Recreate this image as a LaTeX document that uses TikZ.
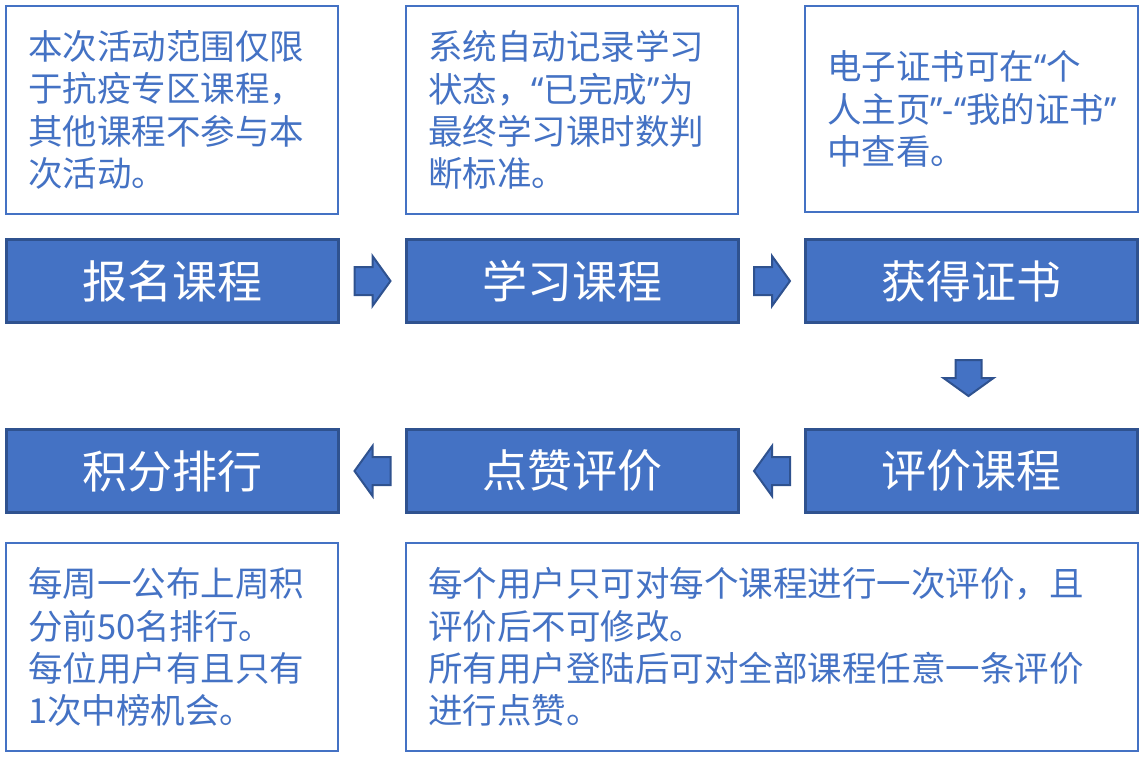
\documentclass[tikz,border=0pt]{standalone}
\usepackage{fontspec}
\usetikzlibrary{calc}
\setmainfont{Noto Sans CJK SC}
\newfontfamily\qf{Noto Sans}
\newcommand{\myoq}{{\qf “}}
\newcommand{\mycq}{{\qf ”}}
\newcommand{\myhy}{{\qf -}}
\definecolor{bfill}{HTML}{4472C4}
\definecolor{bdark}{HTML}{2F528F}
\tikzset{
  tbox/.style={draw=bfill, line width=2pt, fill=white, text=bfill, anchor=north west,
    align=left, inner xsep=22pt, inner ysep=0pt,
    font=\fontsize{34.5}{42.3}\selectfont},
  sbox/.style={draw=bdark, line width=3pt, fill=bfill, text=white, anchor=north west,
    minimum width=332pt, minimum height=83pt, inner sep=0pt,
    font=\fontsize{45}{50}\selectfont},
  barrow/.style={draw=bdark, line width=2pt, fill=bfill, line join=miter},
}
\begin{document}
\begin{tikzpicture}[x=1pt,y=-1pt]
\useasboundingbox (0,0) rectangle (1142,756);
% top text boxes
\node[tbox, minimum width=332pt, minimum height=208pt, text width=288pt] (t1) at (5,5)
  {本次活动范围仅限\\于抗疫专区课程，\\其他课程不参与本\\次活动。};
\node[tbox, minimum width=332pt, minimum height=208pt, text width=288pt] (t2) at (405,5)
  {系统自动记录学习\\状态，\myoq 已完成\mycq 为\\最终学习课时数判\\断标准。};
\node[tbox, minimum width=333pt, minimum height=206pt, text width=289pt] (t3) at (804,5)
  {电子证书可在\myoq 个\\\mbox{人主页\mycq\myhy\myoq 我的证书\mycq}\\中查看。};
% step boxes
\node[sbox] (s1) at (5,238) {报名课程};
\node[sbox] (s2) at (405,238) {学习课程};
\node[sbox] (s3) at (804,238) {获得证书};
\node[sbox] (s4) at (804,428) {评价课程};
\node[sbox] (s5) at (405,428) {点赞评价};
\node[sbox] (s6) at (5,428) {积分排行};
% bottom text boxes
\node[tbox, minimum width=332pt, minimum height=208pt, text width=288pt] (b1) at (5,542)
  {每周一公布上周积\\分前50名排行。\\每位用户有且只有\\1次中榜机会。};
\node[tbox, minimum width=732pt, minimum height=208pt, text width=688pt] (b2) at (405,542)
  {每个用户只可对每个课程进行一次评价，且\\评价后不可修改。\\所有用户登陆后可对全部课程任意一条评价\\进行点赞。};
% block arrows
\coordinate (a1) at ($(s1.east)!0.5!(s2.west)$);
\coordinate (a2) at ($(s2.east)!0.5!(s3.west)$);
\coordinate (a3) at ($(s3.south)!0.5!(s4.north)+(-3,2)$);
\coordinate (a4) at ($(s4.west)!0.5!(s5.east)$);
\coordinate (a5) at ($(s5.west)!0.5!(s6.east)$);
\foreach \c in {a1,a2} {
  \draw[barrow] ($(\c)+(-18,-14)$) -- ++(18,0) -- ++(0,-11) -- ($(\c)+(18,0)$) -- ($(\c)+(0,25)$) -- ++(0,-11) -- ($(\c)+(-18,14)$) -- cycle;
}
\foreach \c in {a4,a5} {
  \draw[barrow] ($(\c)+(18,-14)$) -- ++(-18,0) -- ++(0,-11) -- ($(\c)+(-18,0)$) -- ($(\c)+(0,25)$) -- ++(0,-11) -- ($(\c)+(18,14)$) -- cycle;
}
\draw[barrow] ($(a3)+(-13,-18)$) -- ++(26,0) -- ++(0,18) -- ($(a3)+(25,0)$) -- ($(a3)+(0,18)$) -- ($(a3)+(-25,0)$) -- ($(a3)+(-13,0)$) -- cycle;
\end{tikzpicture}
\end{document}
